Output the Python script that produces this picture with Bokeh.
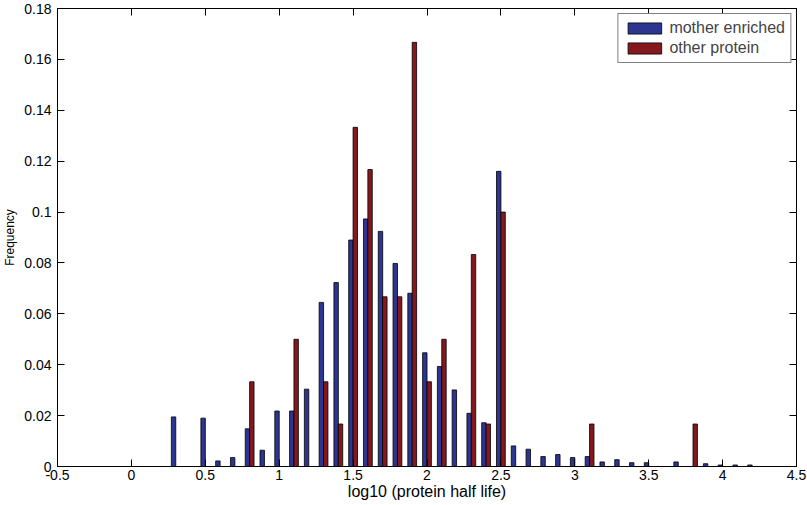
from bokeh.plotting import figure
from bokeh.models import (Range1d, FixedTicker, LinearAxis, CustomJSTickFormatter,
                          ColumnDataSource, Legend, LegendItem, CustomLabelingPolicy)
from bokeh.embed import file_html
from bokeh.resources import INLINE

# bin centres (log10 protein half life)
bins = [0.3, 0.4, 0.5, 0.6, 0.7, 0.8, 0.9, 1.0, 1.1, 1.2, 1.3, 1.4, 1.5, 1.6, 1.7,
        1.8, 1.9, 2.0, 2.1, 2.2, 2.3, 2.4, 2.5, 2.6, 2.7, 2.8, 2.9, 3.0, 3.1, 3.2,
        3.3, 3.4, 3.5, 3.6, 3.7, 3.8, 3.9, 4.0, 4.1, 4.2]

mother_enriched = [0.0195, 0.0, 0.0190, 0.0022, 0.0035, 0.0148, 0.0064, 0.0218, 0.0218, 0.0304,
                   0.0645, 0.0723, 0.0890, 0.0973, 0.0924, 0.0798, 0.0681, 0.0447, 0.0393, 0.0301,
                   0.0209, 0.0172, 0.1160, 0.0081, 0.0068, 0.0039, 0.0047, 0.0035, 0.0039, 0.0018,
                   0.0027, 0.0015, 0.0015, 0.0, 0.0018, 0.0, 0.0011, 0.0006, 0.0006, 0.0006]

other_protein = [0.0, 0.0, 0.0, 0.0, 0.0, 0.0333, 0.0, 0.0, 0.05, 0.0,
                 0.0333, 0.0167, 0.1333, 0.1167, 0.0667, 0.0667, 0.1667, 0.0333, 0.05, 0.0,
                 0.0833, 0.0167, 0.1, 0.0, 0.0, 0.0, 0.0, 0.0, 0.0167, 0.0,
                 0.0, 0.0, 0.0, 0.0, 0.0, 0.0167, 0.0, 0.0, 0.0, 0.0]

series_names = ["mother enriched", "other protein"]
x_ticks = [-0.5, 0, 0.5, 1, 1.5, 2, 2.5, 3, 3.5, 4, 4.5]
y_ticks = [0, 0.02, 0.04, 0.06, 0.08, 0.1, 0.12, 0.14, 0.16, 0.18]

BLUE = "#2c3590"
RED = "#84181d"
FONT = "Liberation Sans"

bar_w = 0.03
off = 0.0148

src = ColumnDataSource(dict(
    xb=[b - off for b in bins],
    xr=[b + off for b in bins],
    blue=mother_enriched,
    red=other_protein,
))

p = figure(width=807, height=505, output_backend="svg", toolbar_location=None,
           x_range=Range1d(-0.5, 4.5), y_range=Range1d(0, 0.18),
           min_border_left=56, min_border_right=11, min_border_top=8, min_border_bottom=39,
           background_fill_color="white", border_fill_color="white")
p.xgrid.visible = False
p.ygrid.visible = False
p.outline_line_color = "black"
p.outline_line_width = 1

rb = p.vbar(x="xb", top="blue", width=bar_w, source=src, fill_color=BLUE,
            line_color="black", line_width=0.8)
rr = p.vbar(x="xr", top="red", width=bar_w, source=src, fill_color=RED,
            line_color="black", line_width=0.8)

fmt = CustomJSTickFormatter(code="return tick.toString();")
hide_all = CustomLabelingPolicy(code="for (const i of [...indices]) { indices.unset(i) } return indices;")


def style_axis(ax, ticks, show_labels=True):
    ax.ticker = FixedTicker(ticks=ticks)
    ax.formatter = fmt
    ax.major_tick_in = 7
    ax.major_tick_out = 0
    ax.minor_tick_in = 0
    ax.minor_tick_out = 0
    ax.axis_line_color = "black"
    ax.major_tick_line_color = "black"
    ax.major_label_text_font = FONT
    ax.major_label_text_color = "black"
    ax.axis_label_text_font = FONT
    ax.axis_label_text_font_style = "normal"
    ax.axis_label_text_color = "black"
    if show_labels:
        ax.major_label_text_font_size = "14px"
    else:
        ax.major_label_text_font_size = "0px"
        ax.major_label_policy = hide_all
        ax.major_label_standoff = 0


style_axis(p.xaxis[0], x_ticks)
p.xaxis[0].axis_label = "log10 (protein half life)"
p.xaxis[0].axis_label_text_font_size = "16px"
p.xaxis[0].major_label_standoff = 3
p.xaxis[0].axis_label_standoff = 0

style_axis(p.yaxis[0], y_ticks)
p.yaxis[0].axis_label = "Frequency"
p.yaxis[0].axis_label_text_font_size = "12px"
p.yaxis[0].major_label_standoff = 6
p.yaxis[0].axis_label_standoff = 4

top_ax = LinearAxis()
style_axis(top_ax, x_ticks, show_labels=False)
p.add_layout(top_ax, "above")
right_ax = LinearAxis()
style_axis(right_ax, y_ticks, show_labels=False)
p.add_layout(right_ax, "right")

legend = Legend(items=[LegendItem(label=series_names[0], renderers=[rb]),
                       LegendItem(label=series_names[1], renderers=[rr])],
                location="top_right", margin=5, padding=5, spacing=2,
                glyph_width=42, glyph_height=14, label_height=16, label_standoff=4,
                label_text_font=FONT, label_text_font_size="16px",
                border_line_color="black", border_line_width=1,
                background_fill_color="white", background_fill_alpha=1.0)
p.add_layout(legend, "center")

open("out.html", "w").write(file_html(p, INLINE))
